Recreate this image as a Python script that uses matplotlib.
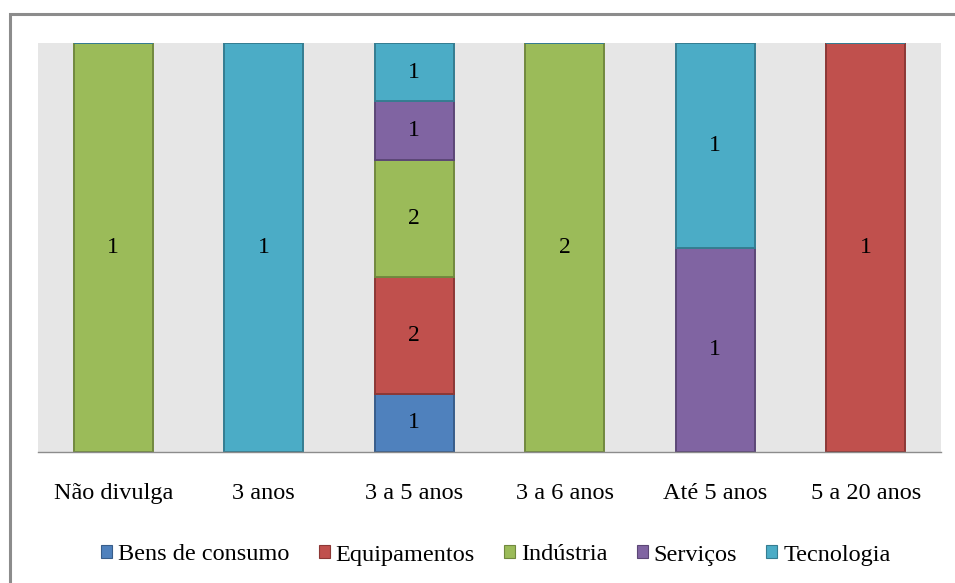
import matplotlib.pyplot as plt
import numpy as np
from matplotlib.patches import Rectangle

plt.rcParams["font.family"] = ["Liberation Serif", "DejaVu Serif"]

categorias = ["Não divulga", "3 anos", "3 a 5 anos", "3 a 6 anos", "Até 5 anos", "5 a 20 anos"]
setores = ["Bens de consumo", "Equipamentos", "Indústria", "Serviços", "Tecnologia"]
bens_de_consumo = [0, 0, 1, 0, 0, 0]
equipamentos = [0, 0, 2, 0, 0, 1]
industria = [1, 0, 2, 2, 0, 0]
servicos = [0, 0, 1, 0, 1, 0]
tecnologia = [0, 1, 1, 0, 1, 0]

cores = ["#4F81BD", "#C0504D", "#9BBB59", "#8064A2", "#4BACC6"]
bordas = ["#385D8A", "#8C3836", "#71893F", "#5C4776", "#357D91"]

valores = np.array([bens_de_consumo, equipamentos, industria, servicos, tecnologia], dtype=float)
totais = valores.sum(axis=0)
percentuais = valores / totais * 100

fig = plt.figure(figsize=(9.55, 5.83), dpi=100)
W, H = 955, 583
ax = fig.add_axes([38 / W, (H - 452) / H, (941 - 38) / W, (452 - 43) / H])
ax.set_facecolor("#E6E6E6")

# moldura externa do gráfico (bordas direita e inferior ficam fora da imagem)
fig.patches.append(Rectangle((9.5 / W, -0.1), 1.0, (H - 13.5) / H + 0.1,
                             transform=fig.transFigure, fill=False,
                             edgecolor="#8C8C8C", linewidth=2.2))

x = np.arange(len(categorias))
base = np.zeros(len(categorias))
for i, nome in enumerate(setores):
    ax.bar(x, percentuais[i], 0.525, bottom=base, color=cores[i],
           edgecolor=bordas[i], linewidth=1.4, label=nome, zorder=2)
    for j in range(len(categorias)):
        if valores[i, j] > 0:
            ax.text(x[j], base[j] + percentuais[i, j] / 2, f"{int(valores[i, j])}",
                    ha="center", va="center", fontsize=17, color="black", zorder=3)
    base += percentuais[i]

ax.set_xlim(-0.5, len(categorias) - 0.5)
ax.set_ylim(0, 100)
ax.set_yticks([])
ax.set_xticks(x)
ax.set_xticklabels(categorias, fontsize=17.5)
ax.tick_params(axis="x", length=0, pad=22)
for lado in ["top", "left", "right"]:
    ax.spines[lado].set_visible(False)
ax.spines["bottom"].set_color("#8C8C8C")
ax.spines["bottom"].set_linewidth(1.0)

leg = fig.legend(loc="center", bbox_to_anchor=(496 / W, (H - 555) / H), ncol=5,
                 frameon=False, fontsize=17.5, handlelength=0.45, handleheight=0.45,
                 handletextpad=0.25, columnspacing=1.2)
for h in leg.legend_handles:
    h.set_linewidth(0.8)

fig.savefig("out.png", dpi=100)
